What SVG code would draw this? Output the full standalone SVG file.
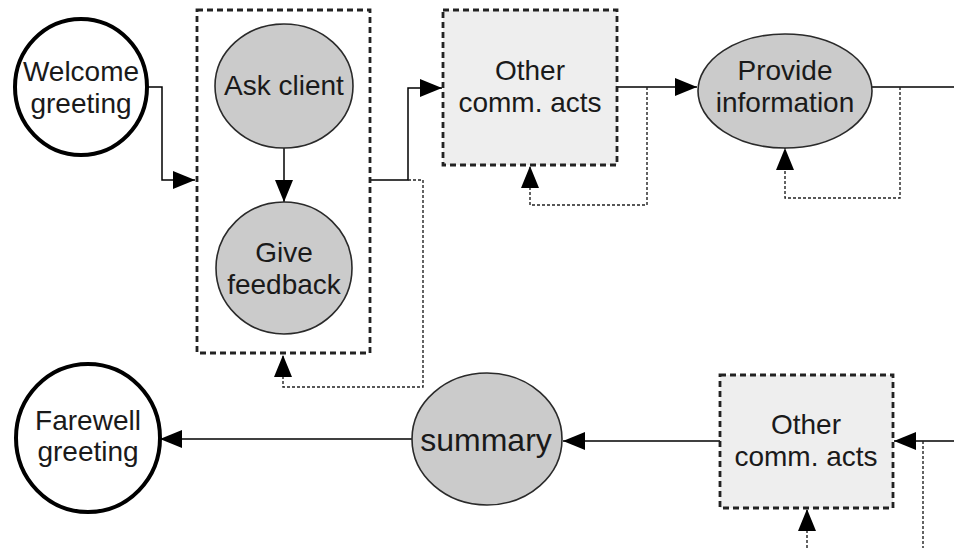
<svg xmlns="http://www.w3.org/2000/svg" width="954" height="548" viewBox="0 0 954 548">
<style>
  .t { font-family: "Liberation Sans", Arial, sans-serif; font-size: 28px; fill: #1a1a1a; text-anchor: middle; }
  .big { font-size: 32px; }
  .term { fill: #ffffff; stroke: #000; stroke-width: 4; }
  .act { fill: #cbcbcb; stroke: #2a2a2a; stroke-width: 1.6; }
  .grp { fill: none; stroke: #222; stroke-width: 2.8; stroke-dasharray: 6 4; }
  .grp2 { fill: #eeeeee; stroke: #222; stroke-width: 2.8; stroke-dasharray: 6 4; }
  .solid { fill: none; stroke: #000; stroke-width: 1.5; }
  .dot { fill: none; stroke: #222; stroke-width: 1.4; stroke-dasharray: 3 2; }
</style>
<defs>
  <marker id="ah" viewBox="0 0 22 18" refX="22" refY="9" markerWidth="22" markerHeight="18" markerUnits="userSpaceOnUse" orient="auto">
    <path d="M0,0 L22,9 L0,18 z" fill="#000"/>
  </marker>
</defs>
<rect width="954" height="548" fill="#ffffff"/>

<g id="connectors">
  <path class="solid" d="M147,87 H162 V180 H195" marker-end="url(#ah)"/>
  <path class="solid" d="M284,148 V202" marker-end="url(#ah)"/>
  <path class="solid" d="M370,180 H408 V88 H442" marker-end="url(#ah)"/>
  <path class="dot" d="M408,180 H423 V387 H283 V355" marker-end="url(#ah)"/>
  <path class="solid" d="M617,87 H697" marker-end="url(#ah)"/>
  <path class="dot" d="M647,87 V205 H530 V166" marker-end="url(#ah)"/>
  <path class="solid" d="M872,87 H954"/>
  <path class="dot" d="M900,87 V198 H785 V148" marker-end="url(#ah)"/>
  <path class="solid" d="M954,441 H894" marker-end="url(#ah)"/>
  <path class="dot" d="M923,441 V548"/>
  <path class="dot" d="M807,548 V509" marker-end="url(#ah)"/>
  <path class="solid" d="M720,441 H563" marker-end="url(#ah)"/>
  <path class="solid" d="M412,439 H160" marker-end="url(#ah)"/>
</g>

<g id="welcome">
  <ellipse class="term" cx="81" cy="87" rx="66" ry="68"/>
  <text class="t" x="81" y="81">Welcome</text>
  <text class="t" x="81" y="113">greeting</text>
</g>

<g id="group1">
  <rect class="grp" x="197" y="10" width="173" height="343"/>
</g>

<g id="ask-client">
  <ellipse class="act" cx="284" cy="86" rx="69" ry="62"/>
  <text class="t" x="284" y="95">Ask client</text>
</g>

<g id="give-feedback">
  <ellipse class="act" cx="284" cy="268" rx="68" ry="66"/>
  <text class="t" x="284" y="262">Give</text>
  <text class="t" x="284" y="294">feedback</text>
</g>

<g id="other1">
  <rect class="grp2" x="443" y="10" width="174" height="155"/>
  <text class="t" x="530" y="80">Other</text>
  <text class="t" x="530" y="112">comm. acts</text>
</g>

<g id="provide-information">
  <ellipse class="act" cx="785" cy="91" rx="87" ry="57"/>
  <text class="t" x="785" y="80">Provide</text>
  <text class="t" x="785" y="112">information</text>
</g>

<g id="other2">
  <rect class="grp2" x="720" y="375" width="173" height="133"/>
  <text class="t" x="806" y="434">Other</text>
  <text class="t" x="806" y="466">comm. acts</text>
</g>

<g id="summary">
  <ellipse class="act" cx="487" cy="439" rx="75" ry="66"/>
  <text class="t big" x="486" y="451">summary</text>
</g>

<g id="farewell">
  <ellipse class="term" cx="88" cy="438" rx="72" ry="74"/>
  <text class="t" x="88" y="430">Farewell</text>
  <text class="t" x="88" y="461">greeting</text>
</g>
</svg>
